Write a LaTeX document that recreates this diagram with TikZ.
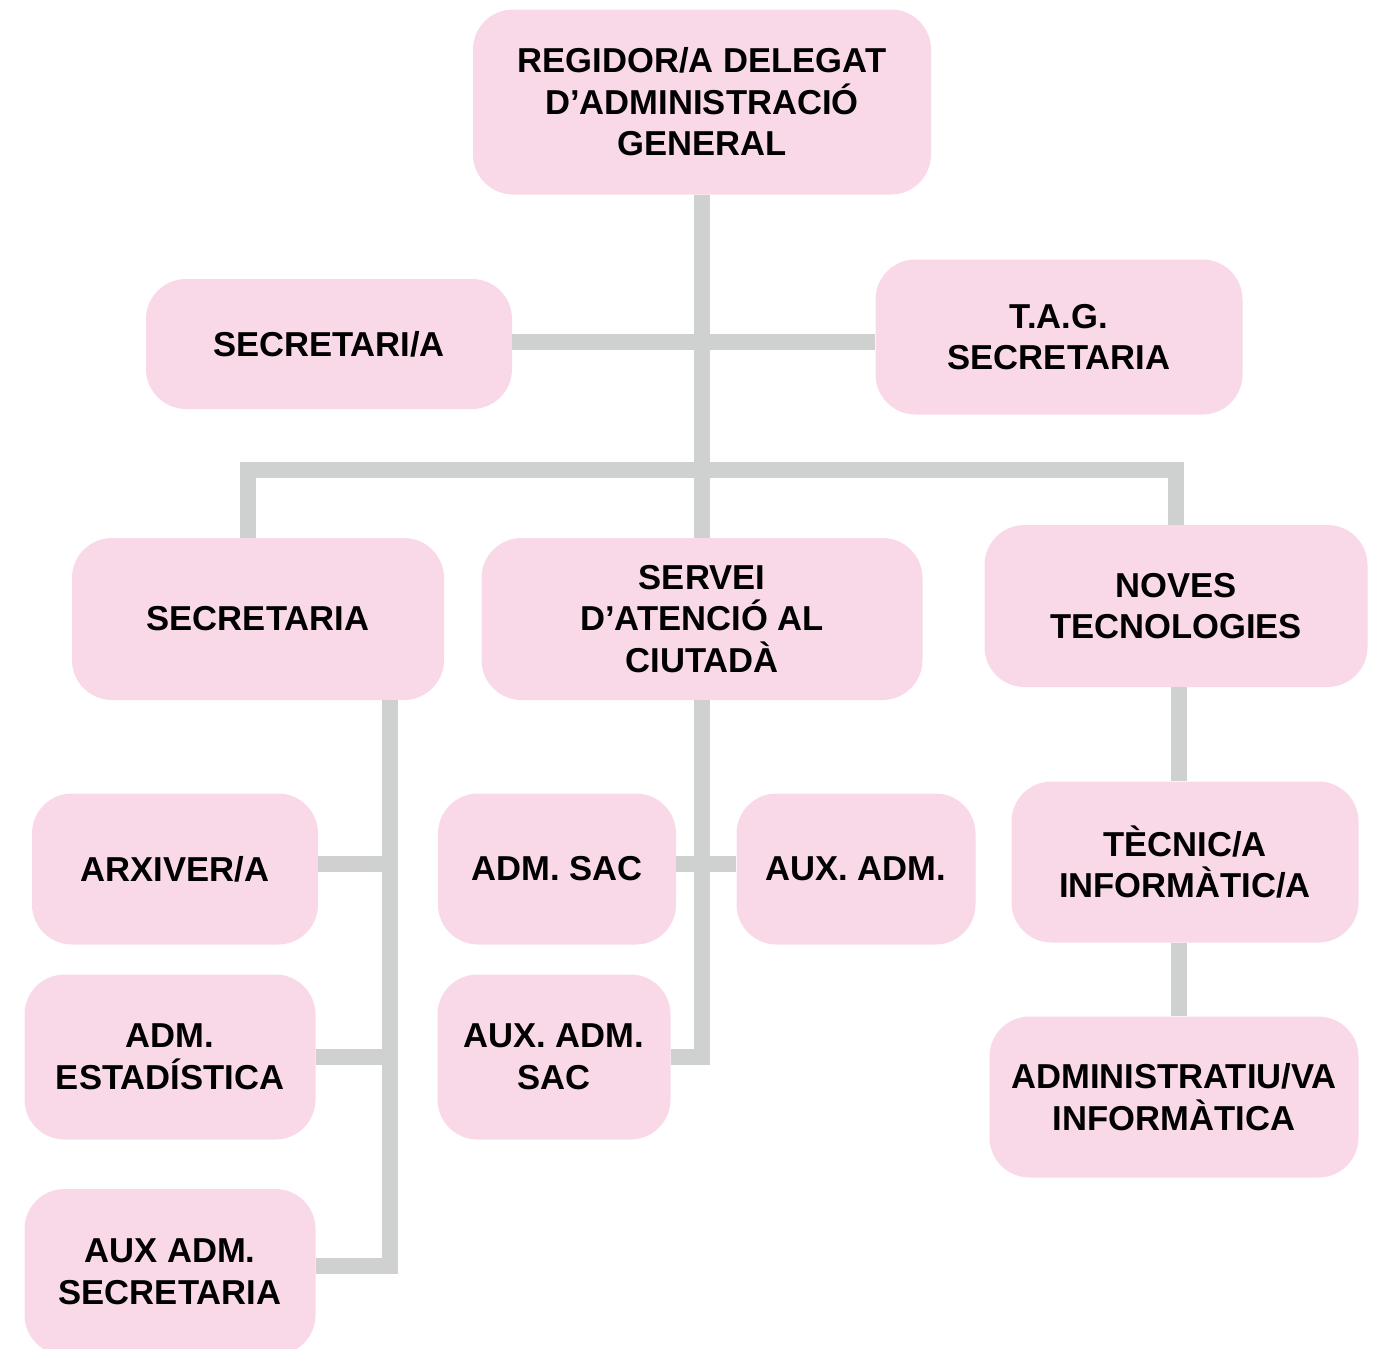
\documentclass[tikz,border=0pt]{standalone}
\usepackage{fontspec}
\setmainfont{Liberation Sans}
\usetikzlibrary{calc}
\definecolor{boxpink}{RGB}{249,217,232}
\definecolor{linkgray}{RGB}{207,209,208}

\begin{document}
\begin{tikzpicture}[x=1pt,y=-1pt,
    box/.style={fill=boxpink, rounded corners=40pt, align=center, inner sep=0pt,
      font=\fontsize{34.6}{41.5}\selectfont\bfseries},
    link/.style={draw=linkgray, line width=16pt, line join=miter}]
    \clip (0,0) rectangle (1382,1349);

    % boxes
    \node[box, minimum width=458pt, minimum height=185pt] (regidor) at (702,102)
        {REGIDOR/A DELEGAT\\D'ADMINISTRACIÓ\\GENERAL};
    \node[box, minimum width=366pt, minimum height=130pt] (secretari) at (329,344) {SECRETARI/A};
    \node[box, minimum width=367pt, minimum height=155pt] (tag) at (1059,337) {T.A.G.\\SECRETARIA};

    \node[box, minimum width=372pt, minimum height=162pt] (secretaria) at (258,619) {SECRETARIA};
    \node[box, minimum width=441pt, minimum height=162pt] (servei) at (702,619)
        {SERVEI\\D'ATENCIÓ AL\\CIUTADÀ};
    \node[box, minimum width=383pt, minimum height=162pt] (noves) at (1176,606) {NOVES\\TECNOLOGIES};

    \node[box, minimum width=286pt, minimum height=151pt] (arxiver) at (175,869) {ARXIVER/A};
    \node[box, minimum width=291pt, minimum height=165pt] (estadistica) at (170,1057) {ADM.\\ESTADÍSTICA};
    \node[box, minimum width=291pt, minimum height=166pt] (auxsec) at (170,1272) {AUX ADM.\\SECRETARIA};

    \node[box, minimum width=238pt, minimum height=151pt] (admsac) at (557,869) {ADM. SAC};
    \node[box, minimum width=233pt, minimum height=165pt] (auxsac) at (554,1057) {AUX. ADM.\\SAC};
    \node[box, minimum width=239pt, minimum height=151pt] (auxadm) at (856,869) {AUX. ADM.};

    \node[box, minimum width=347pt, minimum height=161pt] (tecnic) at (1185,862) {TÈCNIC/A\\INFORMÀTIC/A};
    \node[box, minimum width=369pt, minimum height=161pt] (adminf) at (1174,1097) {ADMINISTRATIU/VA\\INFORMÀTICA};

    % connectors
    \draw[link] (regidor.south) -- (servei.north);
    \draw[link] (secretari.east |- 0,342) -- (tag.west |- 0,342);
    \draw[link] (secretaria.north -| 248,0) |- (noves.north |- 0,470) -- (noves.north);

    \draw[link] (secretaria.south -| 390,0) |- (auxsec.east |- 0,1266);
    \draw[link] (arxiver.east |- 0,864) -- (390,864);
    \draw[link] (estadistica.east |- 0,1057) -- (390,1057);

    \draw[link] (servei.south) |- (auxsac.east |- 0,1057);
    \draw[link] (admsac.east |- 0,864) -- (auxadm.west |- 0,864);

    \draw[link] (noves.south -| 1179,0) -- (tecnic.north -| 1179,0);
    \draw[link] (tecnic.south -| 1179,0) -- (adminf.north -| 1179,0);
\end{tikzpicture}
\end{document}
